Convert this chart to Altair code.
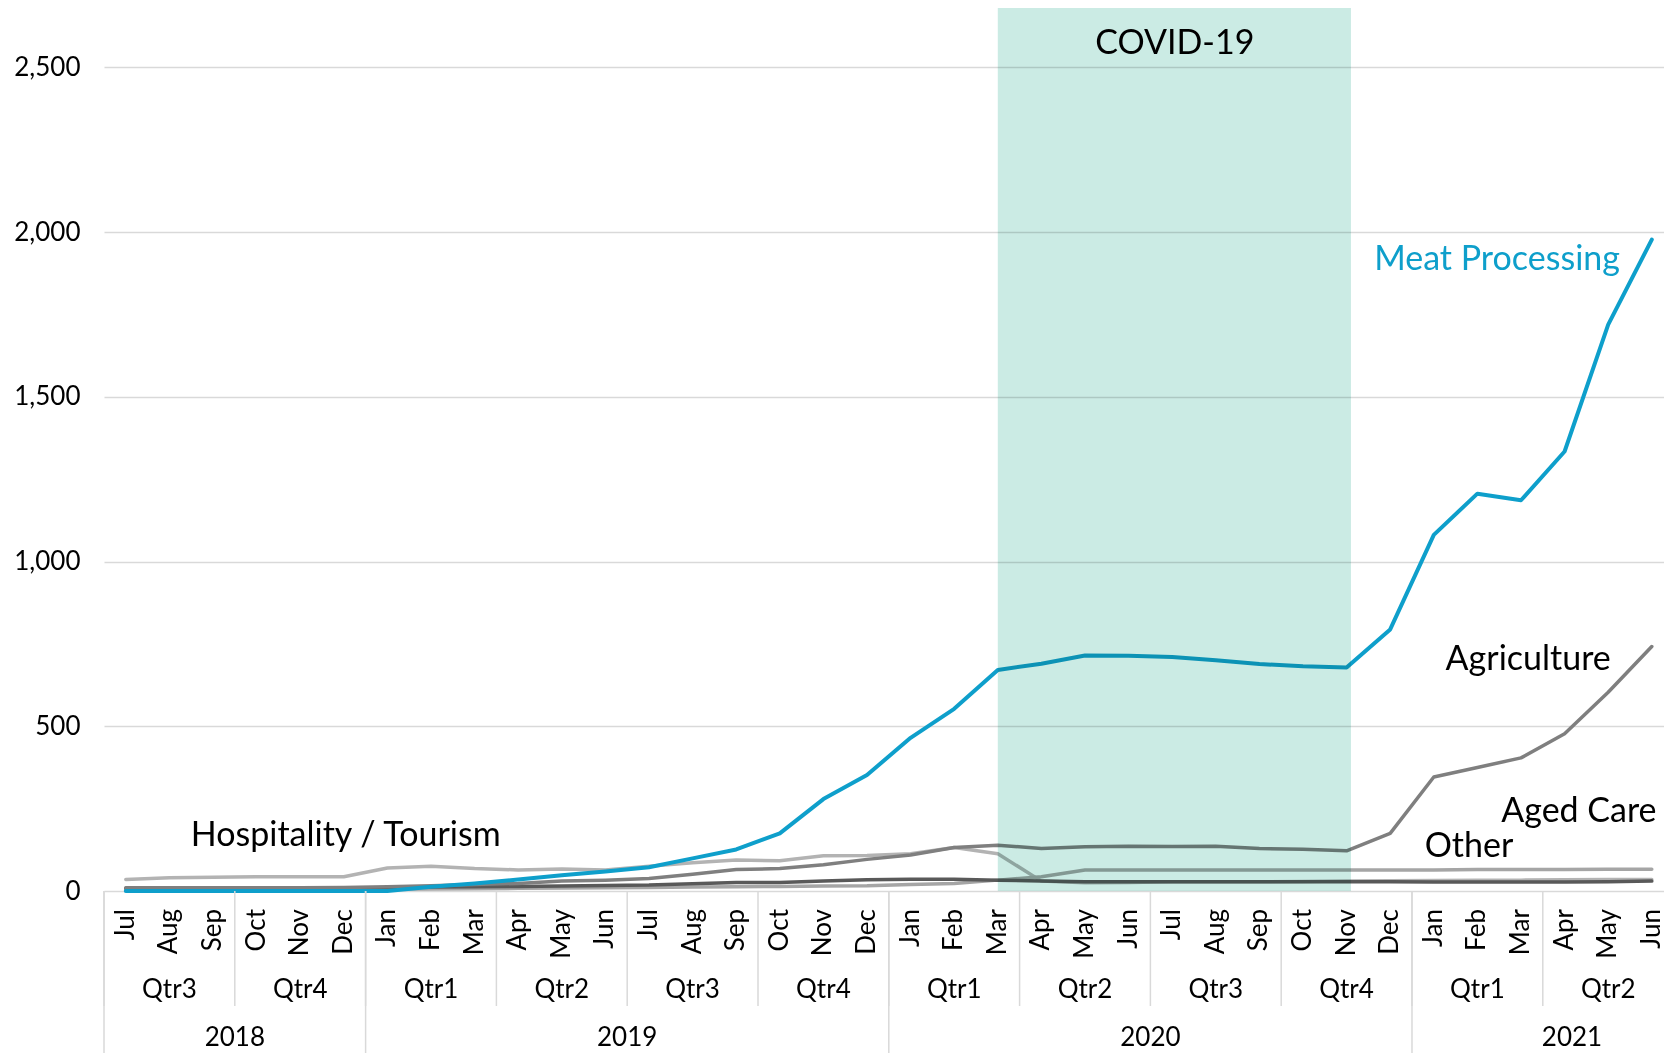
import altair as alt
import pandas as pd

# ---- categories -------------------------------------------------------------
MONTHS = [
    "Jul", "Aug", "Sep", "Oct", "Nov", "Dec",
    "Jan", "Feb", "Mar", "Apr", "May", "Jun", "Jul", "Aug", "Sep", "Oct", "Nov", "Dec",
    "Jan", "Feb", "Mar", "Apr", "May", "Jun", "Jul", "Aug", "Sep", "Oct", "Nov", "Dec",
    "Jan", "Feb", "Mar", "Apr", "May", "Jun",
]
QUARTERS = ["Qtr3", "Qtr4", "Qtr1", "Qtr2", "Qtr3", "Qtr4",
            "Qtr1", "Qtr2", "Qtr3", "Qtr4", "Qtr1", "Qtr2"]
YEARS = ["2018", "2019", "2020", "2021"]
YEAR_MONTHS = [6, 12, 12, 6]

# ---- series values (monthly, Jul 2018 - Jun 2021) ---------------------------
meat_processing = [0, 0, 0, 0, 0, 0,
                   0, 13, 23, 35, 48, 59, 72, 99, 126, 175, 279, 352,
                   465, 553, 671, 690, 715, 714, 710, 700, 689, 682, 678, 794,
                   1081, 1206, 1186, 1334, 1719, 1977]
agriculture = [10, 10, 10, 10, 10, 11,
               13, 16, 20, 23, 30, 33, 38, 51, 65, 68, 80, 96,
               109, 132, 139, 129, 134, 136, 135, 136, 129, 127, 122, 175,
               346, 375, 404, 477, 603, 742]
hospitality = [35, 40, 42, 43, 43, 43,
               70, 75, 68, 64, 67, 64, 75, 86, 94, 92, 107, 108,
               113, 132, 113, 30, 25, 26, 28, 28, 28, 29, 30, 31,
               32, 33, 33, 34, 35, 35]
aged_care = [4, 4, 4, 4, 4, 4,
             5, 6, 7, 8, 9, 10, 11, 12, 13, 14, 15, 16,
             20, 23, 33, 43, 64, 64, 64, 64, 64, 64, 64, 64,
             64, 65, 65, 65, 66, 66]
other = [8, 8, 8, 8, 8, 8,
         10, 12, 13, 14, 15, 17, 18, 22, 26, 26, 30, 34,
         36, 36, 33, 30, 28, 28, 28, 28, 28, 28, 28, 28,
         27, 27, 27, 27, 28, 30]

# drawing order: first listed is drawn first (underneath)
SERIES = [
    ("Hospitality / Tourism", hospitality, "#B3B3B3", 3.5),
    ("Aged Care", aged_care, "#A5A5A5", 3.5),
    ("Other", other, "#595959", 3.5),
    ("Agriculture", agriculture, "#7F7F7F", 3.5),
    ("Meat Processing", meat_processing, "#0E9FCB", 4.0),
]

# COVID-19 period, as month indices (Mar 2020 .. Nov 2020)
COVID_START, COVID_END = 20, 28.1

FONT = "Lato"
Y_MAX = 2680
X_DOMAIN = [-0.5, 35.28]
PLOT_W, PLOT_H = 1560, 883

rows = []
for name, vals, _, _ in SERIES:
    for i, v in enumerate(vals):
        rows.append({"series": name, "idx": i, "value": v})
df = pd.DataFrame(rows)

x_scale = alt.Scale(domain=X_DOMAIN, nice=False, zero=False)
y_scale = alt.Scale(domain=[0, Y_MAX], nice=False)

y_axis = alt.Axis(
    values=[0, 500, 1000, 1500, 2000, 2500], format=",d", title=None,
    grid=True, gridColor="#D9D9D9", gridWidth=1.5,
    domain=False, ticks=False, labelPadding=24,
    labelFont=FONT, labelFontSize=26, labelColor="#000000",
)

layers = []
for name, _, color, width in SERIES:
    layers.append(
        alt.Chart(df)
        .transform_filter(alt.datum.series == name)
        .mark_line(color=color, strokeWidth=width, strokeJoin="round", strokeCap="round")
        .encode(
            x=alt.X("idx:Q", scale=x_scale, axis=None),
            y=alt.Y("value:Q", scale=y_scale, axis=y_axis),
        )
    )

# shaded COVID-19 period
covid = pd.DataFrame({"start": [COVID_START], "end": [COVID_END], "lo": [0], "hi": [Y_MAX]})
layers.append(
    alt.Chart(covid)
    .mark_rect(color="#CBEBE4", blend="multiply")
    .encode(
        x=alt.X("start:Q", scale=x_scale, axis=None),
        x2="end:Q",
        y=alt.Y("lo:Q", scale=y_scale, axis=y_axis),
        y2="hi:Q",
    )
)

# series / period labels
ANNOTATIONS = [
    ("COVID-19", 24.06, 2570, "center", "#000000"),
    ("Meat Processing", 34.27, 1914, "right", "#0E9FCB"),
    ("Agriculture", 34.06, 701, "right", "#000000"),
    ("Aged Care", 35.11, 240, "right", "#000000"),
    ("Other", 29.79, 133, "left", "#000000"),
    ("Hospitality / Tourism", 1.49, 167, "left", "#000000"),
]
for text, ax, ay, align, color in ANNOTATIONS:
    layers.append(
        alt.Chart(pd.DataFrame({"t": [text], "x": [ax], "y": [ay]}))
        .mark_text(font=FONT, fontSize=34, align=align, baseline="middle", color=color)
        .encode(
            x=alt.X("x:Q", scale=x_scale, axis=None),
            y=alt.Y("y:Q", scale=y_scale, axis=y_axis),
            text="t:N",
        )
    )

# multi-level category axis: months / quarters / years
month_df = pd.DataFrame({"idx": list(range(len(MONTHS))), "label": MONTHS})
quarter_df = pd.DataFrame({"idx": [3 * q + 1 for q in range(len(QUARTERS))], "label": QUARTERS})
year_start = [sum(YEAR_MONTHS[:k]) for k in range(len(YEARS))]
year_mid = [s + n / 2 - 0.5 for s, n in zip(year_start, YEAR_MONTHS)]
year_mid[-1] = 33.17  # last year label sits within the visible part of its span
year_df = pd.DataFrame({"idx": year_mid, "label": YEARS})

text_style = dict(font=FONT, fontSize=26, color="#000000")
layers.append(
    alt.Chart(month_df)
    .mark_text(angle=270, align="right", baseline="middle", **text_style)
    .encode(x=alt.X("idx:Q", scale=x_scale, axis=None), y=alt.value(901), text="label:N")
)
layers.append(
    alt.Chart(quarter_df)
    .mark_text(align="center", baseline="middle", **text_style)
    .encode(x=alt.X("idx:Q", scale=x_scale, axis=None), y=alt.value(982), text="label:N")
)
layers.append(
    alt.Chart(year_df)
    .mark_text(align="center", baseline="middle", **text_style)
    .encode(x=alt.X("idx:Q", scale=x_scale, axis=None), y=alt.value(1030), text="label:N")
)

# separators between quarters and between years
q_bounds = pd.DataFrame({"b": [3 * q - 0.5 for q in range(len(QUARTERS) + 1)]})
y_bounds = pd.DataFrame({"b": [s - 0.5 for s in year_start]})
layers.append(
    alt.Chart(q_bounds)
    .mark_rule(color="#D9D9D9", strokeWidth=1.5)
    .encode(x=alt.X("b:Q", scale=x_scale, axis=None), y=alt.value(PLOT_H), y2=alt.value(998))
)
layers.append(
    alt.Chart(y_bounds)
    .mark_rule(color="#D9D9D9", strokeWidth=1.5)
    .encode(x=alt.X("b:Q", scale=x_scale, axis=None), y=alt.value(PLOT_H), y2=alt.value(1045))
)

chart = (
    alt.layer(*layers)
    .properties(
        width=PLOT_W,
        height=PLOT_H,
        autosize=alt.AutoSizeParams(type="none"),
        padding={"left": 104, "top": 8, "right": 0, "bottom": 162},
        background="#FFFFFF",
    )
    .configure_view(stroke=None)
)

chart.save("out.html", embed_options={"renderer": "svg", "actions": False})
